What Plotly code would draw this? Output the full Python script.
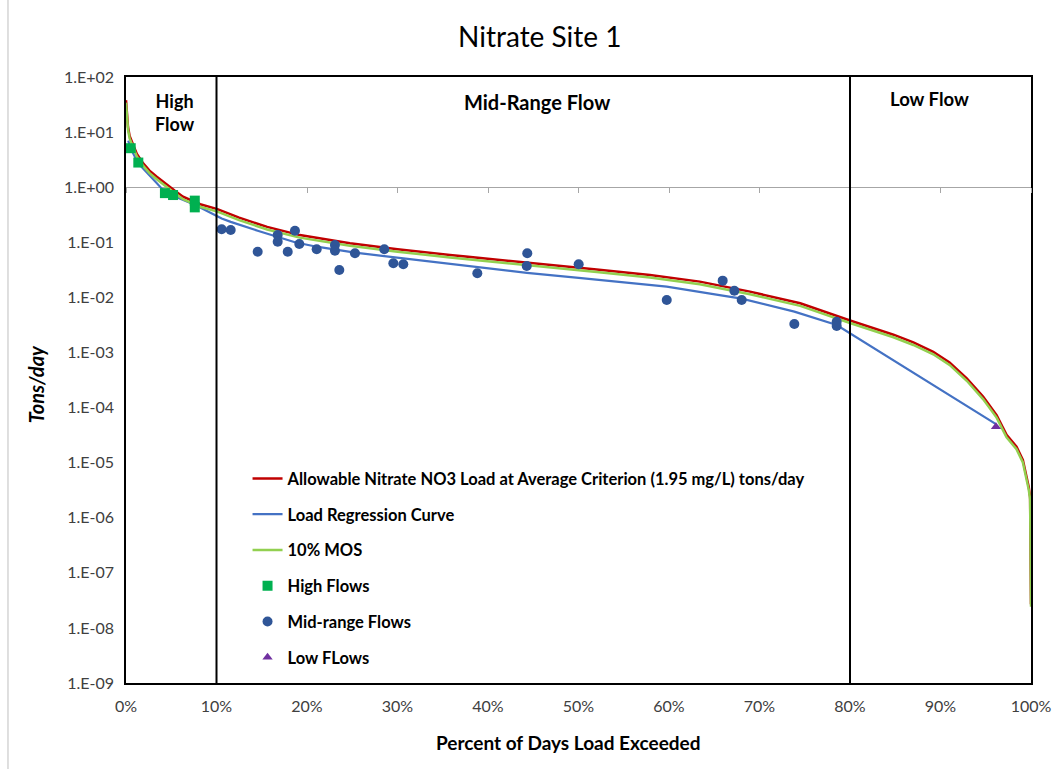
import plotly.graph_objects as go

# Allowable load duration curve (tons/day) vs percent of days exceeded
allow_pct = [0, 0.1, 0.22, 0.4, 0.77, 1.2, 1.9, 2.6, 3.4, 4.5, 5.4, 6.3, 7.2, 8.2, 10.1, 12.5,
             15.6, 19.2, 24.75, 30.0, 35.8, 41.0, 46.85, 52.0, 57.9, 63.4, 68.95, 74.5, 80.0,
             84.8, 87.0, 89.2, 91.0, 92.9, 94.7, 96.2, 97.3, 98.4, 99.1, 99.45, 99.75, 99.9, 100]
allow_load = [38, 20, 12.5, 8.5, 5.8, 4.0, 2.7, 2.0, 1.55, 1.1, 0.86, 0.67, 0.57, 0.49, 0.40, 0.28,
              0.19, 0.135, 0.096, 0.075, 0.059, 0.048, 0.039, 0.032, 0.0255, 0.0193, 0.0127, 0.0078,
              0.0038, 0.0021, 0.00152, 0.00103, 0.00066, 0.00034, 0.000158, 7.3e-5, 3.2e-5, 1.95e-5,
              1.12e-5, 6.5e-6, 3.6e-6, 2.4e-6, 2.7e-8]

# Load with 10% margin of safety
mos_load = [34.2, 18, 11.25, 7.65, 5.22, 3.6, 2.43, 1.8, 1.395, 0.99, 0.774, 0.603, 0.513, 0.441,
            0.36, 0.252, 0.171, 0.1215, 0.0864, 0.0675, 0.0531, 0.0432, 0.0351, 0.0288, 0.02295,
            0.01737, 0.01143, 0.00702, 0.00342, 0.00189, 0.001368, 0.000927, 0.000594, 0.000306,
            0.0001422, 6.57e-5, 2.88e-5, 1.755e-5, 1.008e-5, 5.85e-6, 3.24e-6, 2.16e-6, 2.43e-8]

# Load regression curve
reg_pct = [0.25, 0.52, 1.36, 4.3, 5.2, 7.6, 10.57, 11.57, 14.55, 16.76, 18.67, 21.07, 23.09, 25.3,
           28.54, 30.64, 38.82, 44.3, 50.02, 59.75, 65.93, 68.03, 73.85, 78.53, 96.13]
reg_load = [7.0, 5.0, 2.7, 0.82, 0.70, 0.48, 0.27, 0.235, 0.162, 0.123, 0.10, 0.083, 0.074, 0.065,
            0.056, 0.051, 0.0355, 0.0279, 0.0226, 0.0156, 0.0108, 0.0095, 0.0055, 0.00316, 5.0e-5]

# Observed loads by flow regime
high_pct = [0.52, 1.36, 4.3, 5.2, 7.6, 7.6]
high_load = [5.1, 2.8, 0.78, 0.72, 0.57, 0.43]

mid_pct = [10.57, 11.57, 14.55, 16.76, 16.76, 17.87, 18.67, 19.15, 21.07, 23.09, 23.09, 23.57,
           25.30, 28.54, 29.54, 30.64, 38.82, 44.34, 44.28, 50.02, 59.75, 65.93, 67.22, 68.03,
           73.85, 78.53, 78.53]
mid_load = [0.172, 0.167, 0.0675, 0.1355, 0.1025, 0.0675, 0.162, 0.093, 0.0746, 0.0893, 0.0704,
            0.0314, 0.063, 0.0746, 0.0416, 0.0399, 0.0274, 0.063, 0.0371, 0.0399, 0.00897, 0.0201,
            0.0132, 0.00897, 0.00329, 0.00362, 0.00303]

low_pct = [96.13]
low_load = [4.5e-5]

y_exponents = list(range(-9, 3))
y_tickvals = [10.0 ** e for e in y_exponents]
y_ticktext = ["1.E%s%02d" % ("-" if e < 0 else "+", abs(e)) for e in y_exponents]
x_tickvals = list(range(0, 101, 10))
x_ticktext = ["%d%%" % v for v in x_tickvals]

FONT = "Lato, 'Open Sans', sans-serif"

fig = go.Figure()

fig.add_trace(go.Scatter(
    x=allow_pct, y=allow_load, mode="lines", legendgroup="a",
    name="Allowable Nitrate NO3 Load at Average Criterion (1.95 mg/L) tons/day",
    line=dict(color="#C00000", width=2.5)))
fig.add_trace(go.Scatter(
    x=reg_pct, y=reg_load, mode="lines", legendgroup="b",
    name="Load Regression Curve", line=dict(color="#4472C4", width=2.25)))
fig.add_trace(go.Scatter(
    x=allow_pct, y=mos_load, mode="lines", legendgroup="c",
    name="10% MOS", line=dict(color="#92D050", width=2.5)))
fig.add_trace(go.Scatter(
    x=high_pct, y=high_load, mode="markers", legendgroup="d", name="High Flows",
    marker=dict(symbol="square", size=10, color="#00B050")))
fig.add_trace(go.Scatter(
    x=mid_pct, y=mid_load, mode="markers", legendgroup="e", name="Mid-range Flows",
    marker=dict(symbol="circle", size=10, color="#2F5597")))
fig.add_trace(go.Scatter(
    x=low_pct, y=low_load, mode="markers", legendgroup="f", name="Low FLows",
    marker=dict(symbol="triangle-up", size=9, color="#7030A0")))

# helper trace so the crossing axis at 1.0 tons/day renders
fig.add_trace(go.Scatter(x=[None], y=[None], xaxis="x2", yaxis="y",
                         showlegend=False, hoverinfo="skip"))

# flow regime dividers
for xv in (10, 80):
    fig.add_shape(type="line", xref="x", yref="paper", x0=xv, x1=xv, y0=0, y1=1,
                  line=dict(color="black", width=2))

# outer border on the left
fig.add_shape(type="line", xref="paper", yref="paper", x0=-0.1304, x1=-0.1304,
              y0=-0.15, y1=1.14, line=dict(color="#BFBFBF", width=1))

def label(text, x, y, size, bold=False, italic=False, angle=0, color="black"):
    t = text
    if bold:
        t = "<b>%s</b>" % t
    if italic:
        t = "<i>%s</i>" % t
    fig.add_annotation(text=t, xref="paper", yref="paper", x=x, y=y, showarrow=False,
                       xanchor="center", yanchor="middle", textangle=angle,
                       font=dict(family=FONT, size=size, color=color))

label("Nitrate Site 1", 0.4575, 1.067, 28)
label("High<br>Flow", 0.054, 0.942, 18, bold=True)
label("Mid-Range Flow", 0.454, 0.9587, 20, bold=True)
label("Low Flow", 0.888, 0.9637, 18.5, bold=True)
label("Percent of Days Load Exceeded", 0.4895, -0.0974, 19, bold=True)
label("Tons/day", -0.0994, 0.493, 20, bold=True, italic=True, angle=-90)

fig.update_layout(
    width=1056, height=769,
    margin=dict(l=126, r=25, t=77, b=86, autoexpand=False),
    paper_bgcolor="white", plot_bgcolor="white",
    font=dict(family=FONT, size=16, color="#404040"),
    showlegend=True,
    legend=dict(x=0.1343, y=0.366, xanchor="left", yanchor="top",
                bgcolor="rgba(0,0,0,0)", tracegroupgap=11.3,
                font=dict(family=FONT, size=16.5, color="black", weight="bold")),
    xaxis=dict(range=[0, 100], tickvals=x_tickvals, ticktext=x_ticktext, ticks="",
               showgrid=False, zeroline=False, showline=True, mirror=True, automargin=False,
               linecolor="black", linewidth=1.5, layer="below traces",
               ticklabelstandoff=8, tickfont=dict(size=16, color="#404040")),
    xaxis2=dict(overlaying="x", anchor="free", position=9 / 11, range=[0, 100],
                tickvals=x_tickvals, showticklabels=False, ticks="outside", automargin=False,
                ticklen=5, tickcolor="#A6A6A6", showline=True, linecolor="#A6A6A6",
                linewidth=1, showgrid=False, zeroline=False, layer="below traces"),
    yaxis=dict(type="log", range=[-9, 2], tickvals=y_tickvals, ticktext=y_ticktext,
               ticks="", showgrid=False, zeroline=False, showline=True, mirror=True,
               automargin=False,
               linecolor="black", linewidth=1.5, layer="below traces",
               ticklabelstandoff=7, tickfont=dict(size=16, color="#404040")),
)

fig.write_html("out.html")
